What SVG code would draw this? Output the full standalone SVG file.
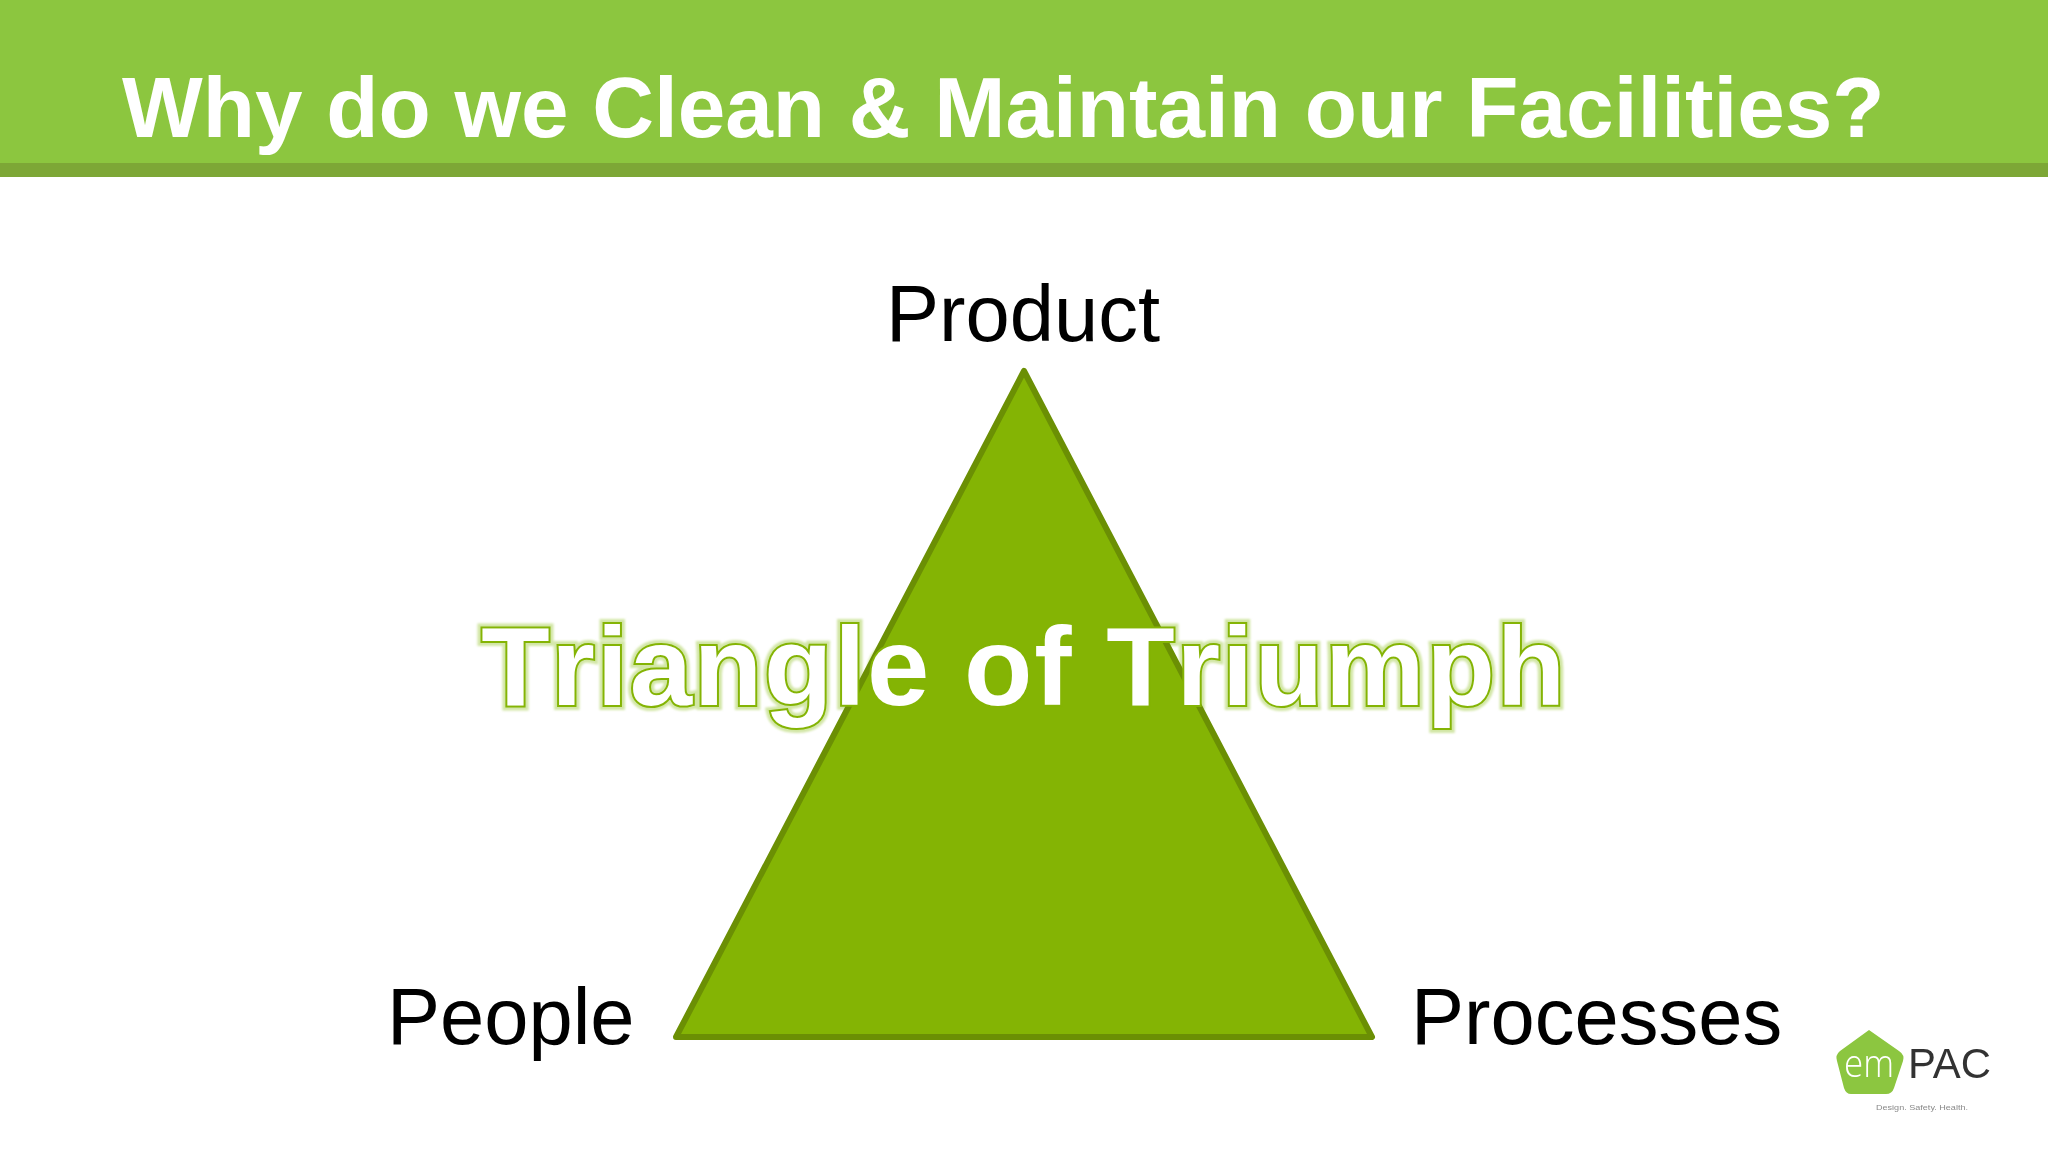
<svg xmlns="http://www.w3.org/2000/svg" width="2048" height="1152" viewBox="0 0 2048 1152">
<defs>
<filter id="glow" x="-5%" y="-20%" width="110%" height="140%"><feGaussianBlur stdDeviation="1.2"/></filter>
<filter id="soft" x="-10%" y="-50%" width="120%" height="200%"><feGaussianBlur stdDeviation="0.7"/></filter>
<filter id="soft2" x="-10%" y="-20%" width="120%" height="140%"><feGaussianBlur stdDeviation="0.6"/></filter>
</defs>
<style>
text{font-family:"Liberation Sans",Arial,sans-serif}
.label{font-size:79.5px;fill:#000}
.wordart{font-size:112px;font-weight:700;fill:#fff;letter-spacing:1.8px;font-kerning:none;paint-order:stroke}
</style>
<rect width="2048" height="1152" fill="#fff"/>
<g id="header">
<rect width="2048" height="163" fill="#8cc63f"/>
<rect y="163" width="2048" height="14" fill="#7da736"/>
<text x="122" y="137" font-size="85.500" font-weight="700" fill="#fff">Why do we Clean &amp; Maintain our Facilities?</text>
</g>
<use href="#wordart-text" filter="url(#glow)" style="stroke:#d2e6a6;stroke-width:10px"/>
<g id="triangle">
<path d="M1024 371L1372 1037H676Z" fill="#84b404" stroke="#6b8f04" stroke-width="6" stroke-linejoin="round"/>
</g>
<g id="product"><text class="label" x="1023" y="341" text-anchor="middle">Product</text></g>
<g id="people"><text class="label" x="387" y="1044">People</text></g>
<g id="processes"><text class="label" x="1411" y="1044">Processes</text></g>
<g id="wordart" style="stroke:#84b404;stroke-width:4px"><text id="wordart-text" class="wordart" x="1024" y="705" text-anchor="middle">Triangle of Triumph</text></g>
<g id="logo" filter="url(#soft2)">
<path d="M1869 1030L1899 1051Q1905 1055 1903 1061L1894 1088Q1892 1094 1886 1094H1851Q1846 1094 1844 1088L1837 1061Q1835 1055 1840 1051Z" fill="#8cc63f"/>
<text x="1844" y="1077" font-size="38" fill="#fff" textLength="50" lengthAdjust="spacingAndGlyphs" style="font-family:'Open Sans',sans-serif;font-weight:300">em</text>
<text x="1908" y="1078" font-size="42" fill="#333" textLength="83" lengthAdjust="spacingAndGlyphs">PAC</text>
<text x="1876" y="1110" font-size="8" fill="#8a8a8a" textLength="92" lengthAdjust="spacingAndGlyphs" filter="url(#soft)">Design. Safety. Health.</text>
</g>
</svg>
